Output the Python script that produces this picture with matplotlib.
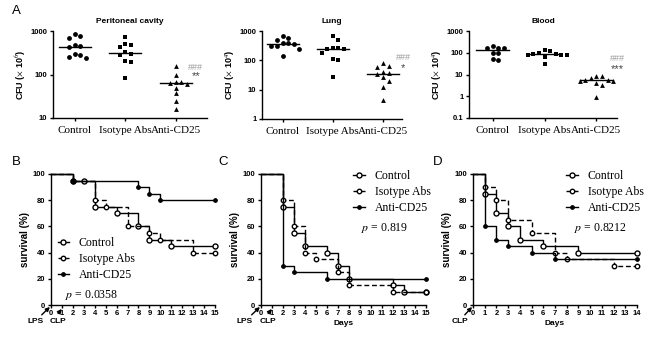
import numpy as np
import matplotlib
matplotlib.use("Agg")
import matplotlib.pyplot as plt
from matplotlib.lines import Line2D

plt.rcParams["font.family"] = ["Liberation Sans", "DejaVu Sans"]
plt.rcParams["mathtext.fontset"] = "stix"

groups = ["Control", "Isotype Abs", "Anti-CD25"]

# --- CFU data (top row) ---
pc_ctrl = [870, 750, 700, 480, 450, 420, 290, 280, 250, 240]
pc_iso = [730, 500, 470, 420, 330, 300, 280, 200, 190, 85]
pc_anti = [160, 95, 68, 66, 64, 62, 50, 37, 25, 16]

lung_ctrl = [700, 600, 500, 380, 380, 350, 320, 300, 250, 140]
lung_iso = [650, 500, 270, 260, 250, 250, 180, 110, 100, 28]
lung_anti = [81, 64, 59, 40, 36, 34, 26, 20, 12, 4.6]

blood_ctrl = [205, 172, 165, 160, 101, 95, 54, 45]
blood_iso = [130, 115, 95, 88, 85, 82, 80, 75, 65, 30]
blood_anti = [8.3, 8.3, 7.2, 5.8, 5.5, 5.2, 5.0, 4.0, 3.2, 0.9]

# --- survival data (bottom row) ---
b_days = {"Control": [0, 2, 3, 4, 6, 8, 9, 11, 15],
          "Isotype Abs": [0, 2, 4, 5, 7, 9, 10, 13, 15],
          "Anti-CD25": [0, 2, 8, 9, 10, 15]}
b_surv = {"Control": [100, 95, 95, 75, 70, 60, 50, 45, 45],
          "Isotype Abs": [100, 95, 80, 75, 60, 55, 50, 40, 40],
          "Anti-CD25": [100, 95, 90, 85, 80, 80]}

c_days = {"Control": [0, 2, 3, 4, 6, 7, 8, 12, 13, 15],
          "Isotype Abs": [0, 2, 3, 4, 5, 7, 8, 12, 15],
          "Anti-CD25": [0, 2, 3, 6, 15]}
c_surv = {"Control": [100, 75, 55, 45, 40, 30, 20, 15, 10, 10],
          "Isotype Abs": [100, 80, 60, 40, 35, 25, 15, 10, 10],
          "Anti-CD25": [100, 30, 25, 20, 20]}

d_days = {"Control": [0, 1, 2, 3, 4, 6, 9, 14],
          "Isotype Abs": [0, 1, 2, 3, 5, 7, 8, 12, 14],
          "Anti-CD25": [0, 1, 2, 3, 5, 7, 14]}
d_surv = {"Control": [100, 85, 70, 60, 50, 45, 40, 40],
          "Isotype Abs": [100, 90, 80, 65, 55, 40, 35, 30, 30],
          "Anti-CD25": [100, 60, 50, 45, 40, 35, 35]}

W, H = 650, 339
fig = plt.figure(figsize=(W / 100, H / 100), dpi=100)


def px_axes(l, r, t, b):
    return fig.add_axes([l / W, 1 - b / H, (r - l) / W, (b - t) / H])


def style(ax):
    for s in ["top", "right"]:
        ax.spines[s].set_visible(False)
    for s in ["left", "bottom"]:
        ax.spines[s].set_linewidth(1.0)
    ax.tick_params(width=1.0, length=2.5, pad=1.5, labelsize=5.5)
    for lab in ax.get_yticklabels() + ax.get_xticklabels():
        lab.set_fontweight("bold")


def swarm(ax, x0, vals, d=5.6):
    # spread points sideways so they don't overlap (in pixels)
    order = np.argsort(vals)[::-1]
    ys = {i: ax.transData.transform((x0, vals[i]))[1] for i in order}
    placed = []
    offs = np.zeros(len(vals))
    for i in order:
        for k in [0, 1, -1, 2, -2, 3, -3, 4, -4, 5, -5]:
            ox = k * d
            if all((ox - px) ** 2 + (ys[i] - py) ** 2 >= d * d * 0.95 for px, py in placed):
                break
        placed.append((ox, ys[i]))
        offs[i] = ox
    x_per_px = 1.0 / (ax.transData.transform((1, 1))[0] - ax.transData.transform((0, 1))[0])
    return x0 + offs * x_per_px


def cfu_panel(box, xlim, ylim, data, title, exp, sig, sig_y):
    ax = px_axes(*box)
    ax.set_yscale("log")
    ax.set_xlim(*xlim)
    ax.set_ylim(*ylim)
    style(ax)
    ax.minorticks_off()
    ax.yaxis.set_major_formatter(matplotlib.ticker.FuncFormatter(lambda v, p: f"{v:g}"))
    for lab in ax.get_yticklabels():
        lab.set_fontweight("bold")
    markers = ["o", "s", "^"]
    for i, vals in enumerate(data):
        xs = swarm(ax, i, vals)
        ax.scatter(xs, vals, marker=markers[i], s=12, color="black", linewidths=0, zorder=3)
        ax.plot([i - 0.32, i + 0.32], [np.median(vals)] * 2, color="black", lw=1.0)
    ax.set_xticks(range(3))
    ax.set_xticklabels(groups, family="Liberation Serif", fontsize=8, fontweight="normal")
    ax.tick_params(axis="x", pad=3)
    ax.set_title(title, fontsize=6, fontweight="bold", pad=6)
    ax.set_ylabel(f"CFU ($\\times$ 10$^{exp}$)", fontsize=6.5, fontweight="bold", labelpad=2)
    ax.text(2.4, sig_y[0], "###", color="#999999", fontsize=6.5, ha="center", va="center")
    ax.text(2.4, sig_y[1], sig, color="#444444", fontsize=8, ha="center", va="center")
    return ax


cfu_panel((53, 207, 31, 118), (-0.43, 2.62), (10, 1000),
          [pc_ctrl, pc_iso, pc_anti], "Peritoneal cavity", 6, "**", (148, 92))
cfu_panel((262, 402, 31, 119), (-0.41, 2.38), (1, 1000),
          [lung_ctrl, lung_iso, lung_anti], "Lung", 4, "*", (128, 55))
cfu_panel((469, 617, 31, 118), (-0.46, 2.4), (0.1, 1000),
          [blood_ctrl, blood_iso, blood_anti], "Blood", 4, "***", (57, 18))

line_style = {"Control": dict(ls="-", marker="o", mfc="white", ms=3.6, mew=1.0),
              "Isotype Abs": dict(ls=(0, (3.5, 2)), marker="o", mfc="white", ms=3.2, mew=1.0),
              "Anti-CD25": dict(ls="-", marker="o", mfc="black", ms=2.6, mew=0.8)}


def surv_panel(box, xmax, days, surv, pval, legend_loc, arrows):
    ax = px_axes(*box)
    ax.set_xlim(0, xmax)
    ax.set_ylim(0, 100)
    for g in groups:
        ax.plot(days[g], surv[g], drawstyle="steps-post", color="black", lw=1.0,
                mec="black", markevery=slice(1, None), clip_on=False, label=g, **line_style[g])
    ax.set_xticks(range(xmax + 1))
    ax.set_yticks(range(0, 101, 20))
    style(ax)
    ax.tick_params(axis="x", pad=1.0)
    ax.set_ylabel("survival (%)", fontsize=7, fontweight="bold", labelpad=2)
    lx, ly = legend_loc
    handles = [Line2D([], [], color="black", lw=1.0, mec="black", **line_style[g]) for g in groups]
    ax.legend(handles, groups, loc="upper left", bbox_to_anchor=(lx, ly), frameon=False,
              prop={"family": "Liberation Serif", "size": 8.5}, handlelength=1.0,
              handletextpad=0.8, labelspacing=0.35, borderpad=0, borderaxespad=0)
    ax.text(lx + 0.045, ly - 0.39, f"$p$ = {pval}", transform=ax.transAxes,
            family="Liberation Serif", fontsize=8.5, va="top")
    for label, head, tail, tpos in arrows:
        ax.annotate("", xy=head, xytext=tail, xycoords="data", annotation_clip=False,
                    arrowprops=dict(arrowstyle="-|>", color="black", lw=1.0, mutation_scale=6,
                                    shrinkA=0, shrinkB=0))
        ax.text(tpos[0], tpos[1], label, fontsize=6, fontweight="bold", ha="center", va="center",
                clip_on=False)
    return ax


axB = surv_panel((51, 215, 174, 305), 15, b_days, b_surv, "0.0358", (0.04, 0.52),
                 [("LPS", (-0.1, -1.5), (-0.85, -7.5), (-1.45, -12.5)),
                  ("CLP", (0.98, -3), (0.65, -6.5), (0.6, -12.5))])
axC = surv_panel((261, 426, 174, 305), 15, c_days, c_surv, "0.819", (0.56, 1.03),
                 [("LPS", (-0.1, -1.5), (-0.85, -7.5), (-1.45, -12.5)),
                  ("CLP", (0.98, -3), (0.65, -6.5), (0.6, -12.5))])
axC.set_xlabel("Days", fontsize=6, fontweight="bold", labelpad=2)
axD = surv_panel((473, 637, 174, 305), 14, d_days, d_surv, "0.8212", (0.57, 1.03),
                 [("CLP", (-0.08, -1.5), (-0.7, -7.5), (-1.1, -12.5))])
axD.set_xlabel("Days", fontsize=6, fontweight="bold", labelpad=2)

for letter, x, y in [("A", 12, 11), ("B", 12, 162), ("C", 218, 162), ("D", 433, 162)]:
    fig.text(x / W, 1 - y / H, letter, fontsize=9.5, va="center", ha="left")

fig.savefig("out.png", dpi=100)
